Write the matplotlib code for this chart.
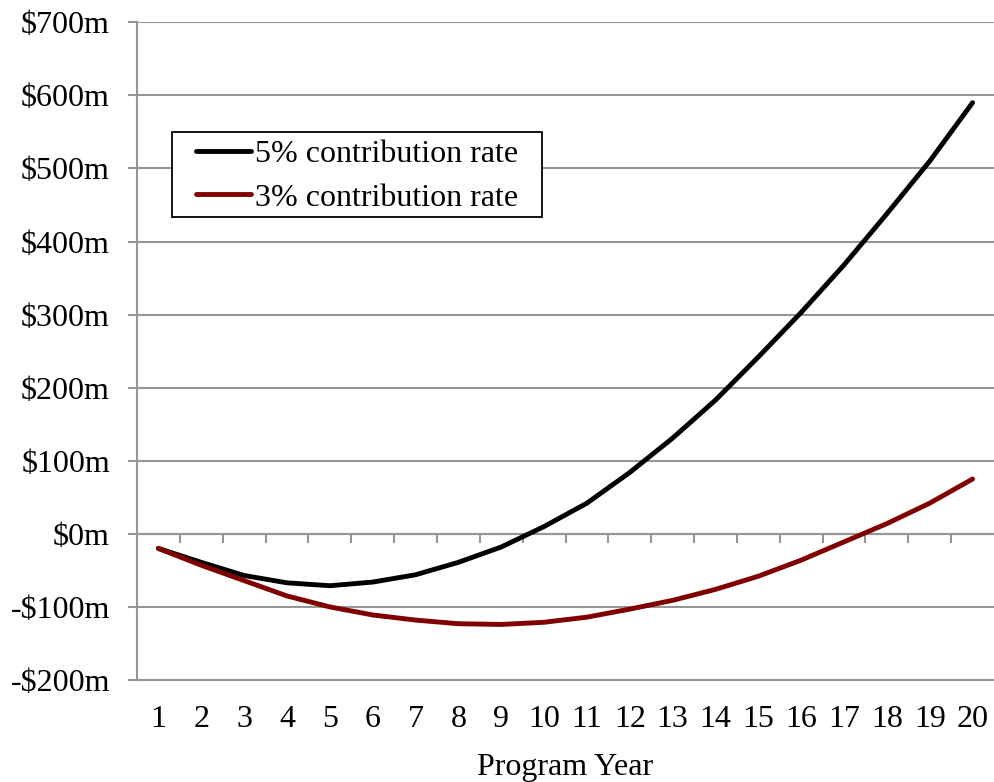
import matplotlib
matplotlib.use("Agg")
import matplotlib.pyplot as plt
from matplotlib.patches import Rectangle
from matplotlib.ticker import FixedLocator, FuncFormatter

plt.rcParams['font.family'] = ['Liberation Serif', 'DejaVu Serif']

years = list(range(1, 21))
rate_5pct = [-20, -39, -57, -67, -71, -66, -56, -39, -18, 10,
             42, 84, 131, 183, 242, 303, 368, 438, 510, 590]
rate_3pct = [-20, -43, -64, -85, -100, -111, -118, -123, -124, -121,
             -114, -103, -91, -76, -58, -36, -11, 14, 42, 75]
y_ticks = [-200, -100, 0, 100, 200, 300, 400, 500, 600, 700]

GRID = '#969696'
FS = 23
W, H = 994, 782

fig = plt.figure(figsize=(W / 100, H / 100), dpi=100)
ax = fig.add_axes([137 / W, 1 - 680 / H, 1 - 137 / W, (680 - 22.3) / H])

ax.plot(years, rate_5pct, color='black', lw=3.5, solid_capstyle='round',
        label='5% contribution rate', zorder=3)
ax.plot(years, rate_3pct, color='#800000', lw=3.5, solid_capstyle='round',
        label='3% contribution rate', zorder=3)

ax.set_xlim(0.5, 20.5)
ax.set_ylim(-200, 700)

ax.yaxis.set_major_locator(FixedLocator(y_ticks))


def money(v, _):
    v = int(round(v))
    return f"-${abs(v)}m" if v < 0 else f"${v}m"


ax.yaxis.set_major_formatter(FuncFormatter(money))
ax.grid(axis='y', color=GRID, lw=1.5)
ax.set_axisbelow(True)

for side in ('top', 'right'):
    ax.spines[side].set_visible(False)
for side in ('left', 'bottom'):
    ax.spines[side].set_color(GRID)
    ax.spines[side].set_linewidth(1.5)

ax.set_xticks(years)
ax.set_xticklabels([str(y) for y in years])
ax.tick_params(axis='x', length=0, pad=18, labelsize=FS)
ax.tick_params(axis='y', length=6.5, width=1.5, color=GRID, pad=13, labelsize=FS)

# category tick marks hang from the zero line
zero_axis = ax.secondary_xaxis(0, transform=ax.transData)
zero_axis.set_xticks([y + 0.5 for y in years[:-1]])
zero_axis.set_xticklabels([])
zero_axis.tick_params(axis='x', direction='out', length=6.5, width=1.5, color=GRID)
zero_axis.spines['bottom'].set_color(GRID)
zero_axis.spines['bottom'].set_linewidth(1.5)

ax.set_xlabel('Program Year', fontsize=FS, labelpad=14)

# legend entries without their own frame; the box is drawn separately so it
# can be wider than it is tall around the entries
leg = ax.legend(loc='upper left', bbox_to_anchor=(0.0637, 0.8292),
                fontsize=FS, frameon=False, handlelength=1.7,
                handletextpad=0.12, labelspacing=0.45, borderpad=0.15,
                borderaxespad=0)
fig.canvas.draw()
bb = leg.get_window_extent()
side_pad = 20
frame_y0 = (1 - 216.7 / H) * H
frame_y1 = (1 - 131.7 / H) * H
frame = Rectangle((bb.x0 - side_pad, frame_y0), bb.width + 2 * side_pad,
                  frame_y1 - frame_y0, transform=None, facecolor='white',
                  edgecolor='black', lw=1.3, zorder=4)
ax.add_artist(frame)
leg.set_zorder(5)

fig.savefig('out.png', dpi=100)
